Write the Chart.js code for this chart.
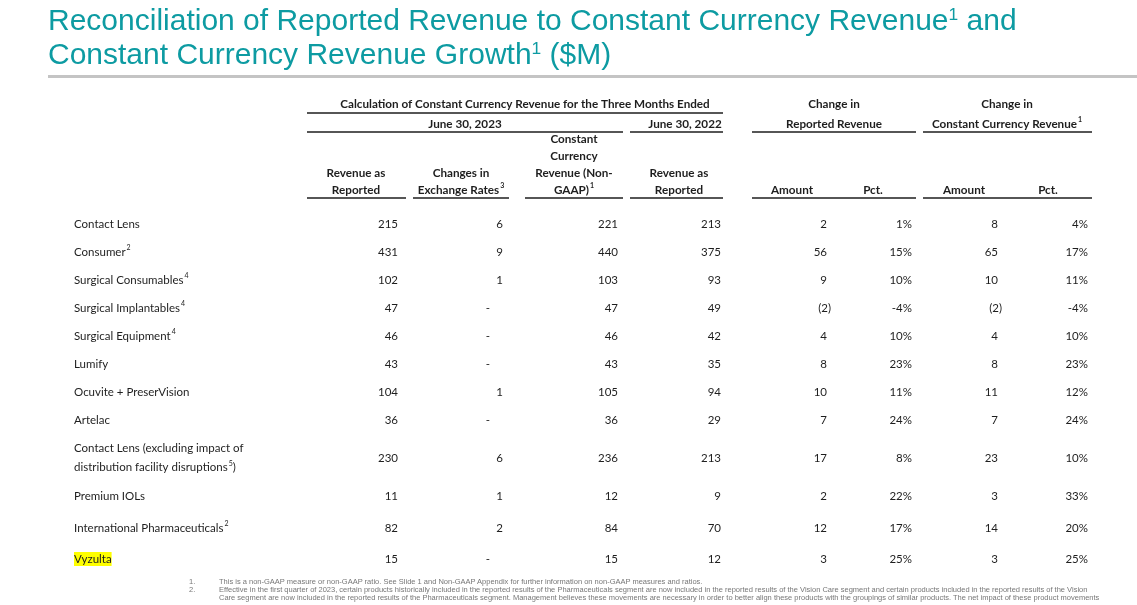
<!DOCTYPE html>
<html>
<head>
<meta charset="utf-8">
<title>Constant Currency Revenue</title>
<script src="https://cdn.jsdelivr.net/npm/chart.js@4.4.0/dist/chart.umd.min.js"></script>
<style>
  html, body { margin: 0; padding: 0; background: #fff; }
  body { width: 1137px; height: 605px; position: relative; overflow: hidden; font-family: "Liberation Sans", Arial, sans-serif; }
  #title { position: absolute; left: 48px; top: 3px; color: #0d9ba2; font-size: 30px; line-height: 34px; white-space: nowrap; z-index: 2; }
  #title sup { font-size: 58%; vertical-align: 0.6em; line-height: 0; }
  #rule { position: absolute; left: 48px; top: 75px; width: 1089px; height: 3px; background: #c4c4c4; z-index: 2; }
  #notes { position: absolute; left: 189px; top: 578px; font-size: 7.5px; line-height: 8px; color: #777; white-space: nowrap; z-index: 2;
           font-family: "Liberation Sans Narrow", "Liberation Sans", Arial, sans-serif; }
  #notes .n { position: relative; height: 8px; }
  #notes .t { position: absolute; left: 30px; }
  #table { position: absolute; left: 0; top: 0; z-index: 1; }
</style>
</head>
<body>
<div id="title">Reconciliation of Reported Revenue to Constant Currency Revenue<sup>1</sup> and<br>Constant Currency Revenue Growth<sup>1</sup> ($M)</div>
<div id="rule"></div>
<canvas id="table" width="1137" height="605"></canvas>
<div id="notes">
  <div class="n"><span class="k">1.</span><span class="t">This is a non-GAAP measure or non-GAAP ratio. See Slide 1 and Non-GAAP Appendix for further information on non-GAAP measures and ratios.</span></div>
  <div class="n"><span class="k">2.</span><span class="t">Effective in the first quarter of 2023, certain products historically included in the reported results of the Pharmaceuticals segment are now included in the reported results of the Vision Care segment and certain products included in the reported results of the Vision</span></div>
  <div class="n"><span class="k"></span><span class="t">Care segment are now included in the reported results of the Pharmaceuticals segment. Management believes these movements are necessary in order to better align these products with the groupings of similar products. The net impact of these product movements</span></div>
</div>
<script>
// ---- data ($M), "^n" marks a footnote superscript, "|" a line break ----
const rowLabels = [
  'Contact Lens', 'Consumer^2', 'Surgical Consumables^4', 'Surgical Implantables^4',
  'Surgical Equipment^4', 'Lumify', 'Ocuvite + PreserVision', 'Artelac',
  'Contact Lens (excluding impact of|distribution facility disruptions^5)',
  'Premium IOLs', 'International Pharmaceuticals^2', 'Vyzulta'
];
const revenue2023      = [215, 431, 102, 47, 46, 43, 104, 36, 230, 11, 82, 15];
const fxChange         = [6, 9, 1, 0, 0, 0, 1, 0, 6, 1, 2, 0];
const constantCurrency = [221, 440, 103, 47, 46, 43, 105, 36, 236, 12, 84, 15];
const revenue2022      = [213, 375, 93, 49, 42, 35, 94, 29, 213, 9, 70, 12];
const reportedAmount   = [2, 56, 9, -2, 4, 8, 10, 7, 17, 2, 12, 3];
const reportedPct      = [1, 15, 10, -4, 10, 23, 11, 24, 8, 22, 17, 25];
const ccAmount         = [8, 65, 10, -2, 4, 8, 11, 7, 23, 3, 14, 3];
const ccPct            = [4, 17, 11, -4, 10, 23, 12, 24, 10, 33, 20, 25];
const highlightRow = 'Vyzulta';

const columnHeaders = [
  ['Revenue as', 'Reported'], ['Changes in', 'Exchange Rates^3'],
  ['Constant', 'Currency', 'Revenue (Non-', 'GAAP)^1'], ['Revenue as', 'Reported'],
  ['Amount'], ['Pct.'], ['Amount'], ['Pct.']
];
const groupHeaders = [
  'Calculation of Constant Currency Revenue for the Three Months Ended',
  'June 30, 2023', 'June 30, 2022',
  'Change in', 'Reported Revenue', 'Change in', 'Constant Currency Revenue^1'
];

const tableColumns = [revenue2023, fxChange, constantCurrency, revenue2022,
                      reportedAmount, reportedPct, ccAmount, ccPct];
const columnKinds = ['num', 'num', 'num', 'num', 'num', 'pct', 'num', 'pct'];

// ---- layout (scale units = page pixels) ----
const labelLeft = 74;
const colRight  = [398, 503, 618, 721, 827, 912, 998, 1088];
const colCenter = [356, 461, 574, 679, 792, 873, 964, 1048];
const rowY      = [224, 252, 280, 308, 336, 364, 392, 420, 458, 496, 528, 559];
const groupPos  = [[525, 104], [465, 124], [685, 124], [834, 104], [834, 124], [1007, 104], [1007, 124]];
const groupRule = [[307, 723, 113], [307, 623, 132], [630, 723, 132], [752, 916, 132], [923, 1092, 132]];
const headRule  = [[307, 406], [413, 509], [525, 623], [630, 723], [752, 916], [923, 1092]];
const headBottom = 190, headRuleY = 198, headLineGap = 17;
const bodySize = 11.5, headSize = 11.7;

const FONT = 'Lato, "Noto Sans", sans-serif';
const INK = '#1e1e1e';

function fmt(v, kind) {
  if (kind === 'pct') return v + '%';
  if (v === 0) return '-';
  return v < 0 ? '(' + (-v) + ')' : String(v);
}

function richWidth(ctx, str, size, weight) {
  let w = 0;
  str.split(/\^(\d)/).forEach((p, i) => {
    ctx.font = weight + ' ' + (i % 2 ? Math.round(size * 0.62) : size) + 'px ' + FONT;
    w += ctx.measureText(p).width + (i % 2 ? 1 : 0);
  });
  return w;
}

function drawRich(ctx, str, x, y, align, size, weight) {
  const total = richWidth(ctx, str, size, weight);
  let cx = align === 'center' ? x - total / 2 : align === 'right' ? x - total : x;
  ctx.textAlign = 'left';
  ctx.textBaseline = 'middle';
  str.split(/\^(\d)/).forEach((p, i) => {
    const sup = i % 2 === 1;
    ctx.font = weight + ' ' + (sup ? Math.round(size * 0.62) : size) + 'px ' + FONT;
    ctx.fillText(p, cx + (sup ? 1 : 0), sup ? y - 4 : y);
    cx += ctx.measureText(p).width + (sup ? 1 : 0);
  });
  return total;
}

const tableText = {
  id: 'tableText',
  afterDatasetsDraw(chart) {
    const ctx = chart.ctx;
    const xs = chart.scales.x, ys = chart.scales.y;
    ctx.save();
    ctx.fillStyle = INK;
    ctx.strokeStyle = INK;
    ctx.lineWidth = 1.5;

    // group headers and their rules
    groupHeaders.forEach((h, i) => {
      drawRich(ctx, h, xs.getPixelForValue(groupPos[i][0]), ys.getPixelForValue(groupPos[i][1]), 'center', headSize, 'bold');
    });
    groupRule.concat(headRule.map(r => [r[0], r[1], headRuleY])).forEach(r => {
      ctx.beginPath();
      ctx.moveTo(xs.getPixelForValue(r[0]), ys.getPixelForValue(r[2]));
      ctx.lineTo(xs.getPixelForValue(r[1]), ys.getPixelForValue(r[2]));
      ctx.stroke();
    });
    // column headers, bottom aligned
    columnHeaders.forEach((lines, c) => {
      lines.forEach((ln, k) => {
        const yv = headBottom - (lines.length - 1 - k) * headLineGap;
        drawRich(ctx, ln, xs.getPixelForValue(colCenter[c]), ys.getPixelForValue(yv), 'center', headSize, 'bold');
      });
    });

    chart.data.datasets.forEach((ds, di) => {
      const meta = chart.getDatasetMeta(di);
      meta.data.forEach((el, r) => {
        const item = ds.data[r];
        if (ds.isLabel) {
          const lines = item.text.split('|');
          lines.forEach((ln, k) => {
            const y = el.y + (k - (lines.length - 1) / 2) * 19;
            if (item.text === highlightRow) {
              ctx.fillStyle = '#ffff00';
              ctx.fillRect(el.x, y - 7, richWidth(ctx, ln, bodySize, 'normal'), 14);
              ctx.fillStyle = INK;
            }
            drawRich(ctx, ln, el.x, y, 'left', bodySize, 'normal');
          });
        } else {
          const s = fmt(item.v, ds.kind);
          const x = s === '-' ? el.x - 13 : s.startsWith('(') ? el.x + 4 : el.x;
          drawRich(ctx, s, x, el.y, 'right', bodySize, 'normal');
        }
      });
    });
    ctx.restore();
  }
};

const datasets = [{
  isLabel: true,
  data: rowLabels.map((t, r) => ({ x: labelLeft, y: rowY[r], text: t }))
}].concat(tableColumns.map((col, c) => ({
  kind: columnKinds[c],
  data: col.map((v, r) => ({ x: colRight[c], y: rowY[r], v: v }))
})));
datasets.forEach(d => { d.pointRadius = 0; d.pointHoverRadius = 0; d.showLine = false; });

new Chart(document.getElementById('table'), {
  type: 'scatter',
  data: { datasets: datasets },
  options: {
    responsive: false,
    animation: false,
    events: [],
    layout: { padding: 0 },
    plugins: { legend: { display: false }, tooltip: { enabled: false } },
    scales: {
      x: { type: 'linear', min: 0, max: 1137, display: false },
      y: { type: 'linear', min: 0, max: 605, reverse: true, display: false }
    }
  },
  plugins: [tableText]
});
</script>
</body>
</html>
